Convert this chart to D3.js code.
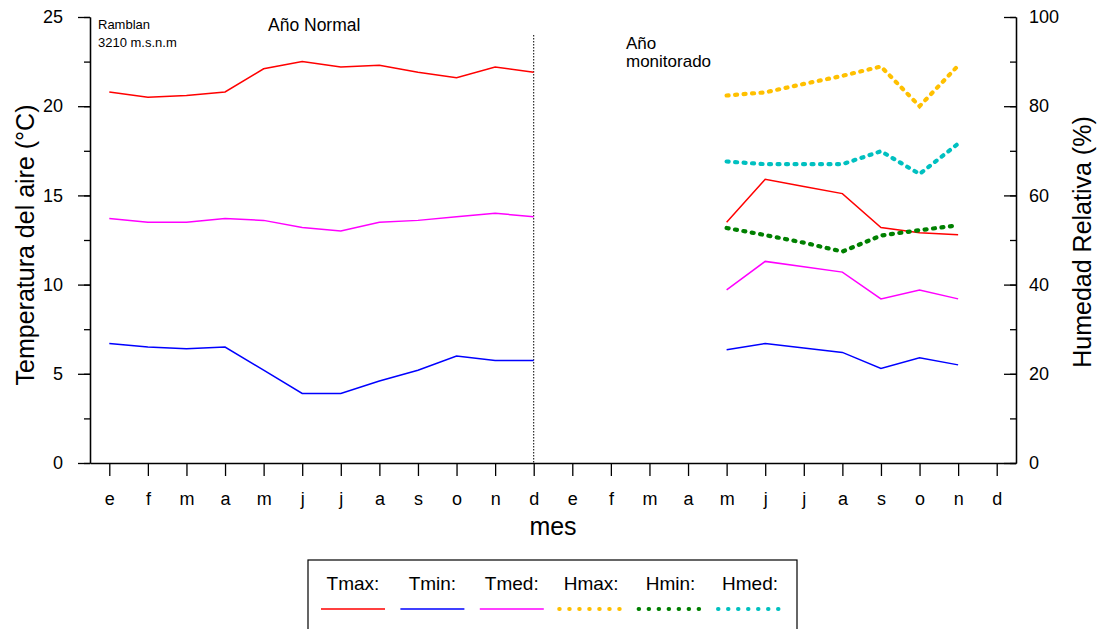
<!DOCTYPE html>
<html>
<head>
<meta charset="utf-8">
<script src="https://cdnjs.cloudflare.com/ajax/libs/d3/7.8.5/d3.min.js"></script>
<style>
  body { margin: 0; background: #fff; }
  svg text { font-family: "Liberation Sans", Arial, sans-serif; fill: #000; }
  .axis path, .axis line { stroke: #000; stroke-width: 1.3; }
  .axis text { font-size: 18px; }
</style>
</head>
<body>
<div id="chart"></div>
<script>
// months shown twice: normal year + monitored year
const meses = ["e","f","m","a","m","j","j","a","s","o","n","d"];
const inicioMonitoreo = 16; // "m" of the second year

// normal year (°C)
const tmaxNormal = [20.8, 20.5, 20.6, 20.8, 22.1, 22.5, 22.2, 22.3, 21.9, 21.6, 22.2, 21.9];
const tminNormal = [6.7, 6.5, 6.4, 6.5, 5.2, 3.9, 3.9, 4.6, 5.2, 6.0, 5.75, 5.75];
const tmedNormal = [13.7, 13.5, 13.5, 13.7, 13.6, 13.2, 13.0, 13.5, 13.6, 13.8, 14.0, 13.8];

// monitored year, m..n (°C and %)
const tmaxMonit = [13.5, 15.9, 15.5, 15.1, 13.2, 12.9, 12.8];
const tminMonit = [6.35, 6.7, 6.45, 6.2, 5.3, 5.9, 5.5];
const tmedMonit = [9.7, 11.3, 11.0, 10.7, 9.2, 9.7, 9.2];
const hmaxMonit = [82.4, 83.1, 85.0, 86.8, 88.9, 80.0, 89.1];
const hminMonit = [52.7, 51.1, 49.4, 47.4, 51.0, 52.2, 53.3];
const hmedMonit = [67.6, 67.0, 67.0, 67.0, 69.9, 64.8, 71.6];

const ticksTemp = [0, 5, 10, 15, 20, 25];
const ticksHum = [0, 20, 40, 60, 80, 100];

const legendNames = ["Tmax:", "Tmin:", "Tmed:", "Hmax:", "Hmin:", "Hmed:"];

function Execute(){
    //------------------------1. PREPARATION------------------------//
    const width = 1097;
    const height = 629;
    const left = 90, right = 1016, top = 17, bottom = 463;

    const svg = d3.select("#chart")
        .append("svg")
        .attr("width", width)
        .attr("height", height);

    const etiquetas = meses.concat(meses);

    //----------------------------SCALES----------------------------//
    const xScale = d3.scalePoint()
        .domain(d3.range(etiquetas.length))
        .range([left, right])
        .padding(0.5);
    const yTemp = d3.scaleLinear().domain([0, 25]).range([bottom, top]);
    const yHum = d3.scaleLinear().domain([0, 100]).range([bottom, top]);

    //-----------------------------SERIES---------------------------//
    const serie = (vals, start) => vals.map((v, i) => ({ i: start + i, v: v }));
    const series = [
        { name: "Tmax", color: "#ff0000", dotted: false, y: yTemp, data: serie(tmaxNormal, 0) },
        { name: "Tmin", color: "#0000ff", dotted: false, y: yTemp, data: serie(tminNormal, 0) },
        { name: "Tmed", color: "#ff00ff", dotted: false, y: yTemp, data: serie(tmedNormal, 0) },
        { name: "Tmax", color: "#ff0000", dotted: false, y: yTemp, data: serie(tmaxMonit, inicioMonitoreo) },
        { name: "Tmin", color: "#0000ff", dotted: false, y: yTemp, data: serie(tminMonit, inicioMonitoreo) },
        { name: "Tmed", color: "#ff00ff", dotted: false, y: yTemp, data: serie(tmedMonit, inicioMonitoreo) },
        { name: "Hmax", color: "#ffc000", dotted: true, y: yHum, data: serie(hmaxMonit, inicioMonitoreo) },
        { name: "Hmin", color: "#008000", dotted: true, y: yHum, data: serie(hminMonit, inicioMonitoreo) },
        { name: "Hmed", color: "#00c0c0", dotted: true, y: yHum, data: serie(hmedMonit, inicioMonitoreo) }
    ];
    const legendColors = ["#ff0000", "#0000ff", "#ff00ff", "#ffc000", "#008000", "#00c0c0"];

    //-----------------------------AXES-----------------------------//
    // left minor ticks
    svg.append("g")
        .attr("class", "axis")
        .attr("transform", "translate(" + left + ",0)")
        .call(d3.axisLeft(yTemp).tickValues(d3.range(0, 25.1, 2.5)).tickSize(6).tickSizeOuter(0).tickFormat(""));
    svg.append("g")
        .attr("class", "axis")
        .attr("transform", "translate(" + left + ",0)")
        .call(d3.axisLeft(yTemp).tickValues(ticksTemp).tickSize(12).tickSizeOuter(0).tickPadding(15));

    // right axis, ticks pointing inside
    svg.append("g")
        .attr("class", "axis")
        .attr("transform", "translate(" + right + ",0)")
        .call(d3.axisRight(yHum).tickValues(d3.range(0, 101, 10)).tickSize(-6).tickSizeOuter(0).tickFormat(""));
    svg.append("g")
        .attr("class", "axis")
        .attr("transform", "translate(" + right + ",0)")
        .call(d3.axisRight(yHum).tickValues(ticksHum).tickSize(-12).tickSizeOuter(0).tickPadding(13));

    svg.append("g")
        .attr("class", "axis")
        .attr("transform", "translate(0," + bottom + ")")
        .call(d3.axisBottom(xScale).tickSize(13).tickSizeOuter(0).tickPadding(16)
            .tickFormat(i => etiquetas[i]));

    //-------------------------AXIS TITLES--------------------------//
    svg.append("text")
        .attr("transform", "translate(34," + ((top + bottom) / 2 + 5) + ") rotate(-90)")
        .attr("text-anchor", "middle")
        .style("font-size", "25px")
        .text("Temperatura del aire (°C)");

    svg.append("text")
        .attr("transform", "translate(1091," + ((top + bottom) / 2 + 2) + ") rotate(-90)")
        .attr("text-anchor", "middle")
        .style("font-size", "25px")
        .text("Humedad Relativa (%)");

    svg.append("text")
        .attr("x", 553)
        .attr("y", 535)
        .attr("text-anchor", "middle")
        .style("font-size", "25px")
        .text("mes");

    //------------------------ANNOTATIONS---------------------------//
    svg.append("line")
        .attr("x1", xScale(11)).attr("x2", xScale(11))
        .attr("y1", 35).attr("y2", bottom)
        .attr("stroke", "#000")
        .attr("stroke-width", 1)
        .attr("stroke-dasharray", "1.5,1.5");

    svg.append("text").attr("x", 98).attr("y", 29).style("font-size", "13px").text("Ramblan");
    svg.append("text").attr("x", 98).attr("y", 47).style("font-size", "13px").text("3210 m.s.n.m");
    svg.append("text").attr("x", 268).attr("y", 31).style("font-size", "17.5px").text("Año Normal");
    svg.append("text").attr("x", 626).attr("y", 49).style("font-size", "17px").text("Año");
    svg.append("text").attr("x", 626).attr("y", 67).style("font-size", "17px").text("monitorado");

    //----------------------------LINES-----------------------------//
    series.forEach(function(s){
        const line = d3.line()
            .x(d => xScale(d.i))
            .y(d => s.y(d.v));
        const p = svg.append("path")
            .attr("d", line(s.data))
            .attr("fill", "none")
            .attr("stroke", s.color);
        if (s.dotted) {
            p.attr("stroke-width", 4.2)
             .attr("stroke-linecap", "round")
             .attr("stroke-dasharray", "2,6.5");
        } else {
            p.attr("stroke-width", 1.5);
        }
    });

    //----------------------------LEGEND----------------------------//
    svg.append("rect")
        .attr("x", 308).attr("y", 560)
        .attr("width", 489).attr("height", 90)
        .attr("fill", "none")
        .attr("stroke", "#000")
        .attr("stroke-width", 1.2);

    const lx = d3.scalePoint().domain(legendNames).range([353, 750]);
    const items = svg.selectAll(".leg")
        .data(legendNames)
        .enter()
        .append("g")
        .attr("class", "leg");
    items.append("text")
        .attr("x", d => lx(d))
        .attr("y", 590)
        .attr("text-anchor", "middle")
        .style("font-size", "19px")
        .text(d => d);
    items.append("line")
        .attr("x1", d => lx(d) - 32)
        .attr("x2", d => lx(d) + 32)
        .attr("y1", 609).attr("y2", 609)
        .attr("stroke", (d, i) => legendColors[i])
        .attr("stroke-width", (d, i) => i < 3 ? 1.5 : 4)
        .attr("stroke-linecap", (d, i) => i < 3 ? "butt" : "round")
        .attr("stroke-dasharray", (d, i) => i < 3 ? null : "0.5,9.5");
};

Execute();
</script>
</body>
</html>
